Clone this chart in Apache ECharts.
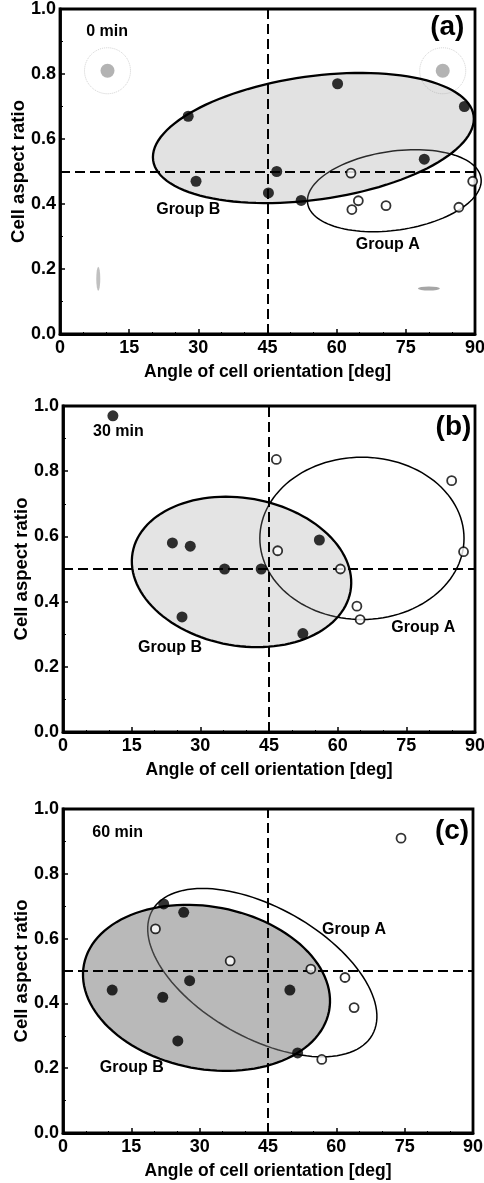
<!DOCTYPE html>
<html><head><meta charset="utf-8">
<script src="https://cdn.jsdelivr.net/npm/echarts@6/dist/echarts.min.js"></script>
<style>html,body{margin:0;padding:0;background:#fff}#c{width:484px;height:1183px}</style>
</head><body><div id="c"></div>
<script>
// ---- data ----
const xTicks = [0, 15, 30, 45, 60, 75, 90];
const yTicks = [0.0, 0.2, 0.4, 0.6, 0.8, 1.0];
const xName = 'Angle of cell orientation [deg]';
const yName = 'Cell aspect ratio';
const panelTags = ['(a)', '(b)', '(c)'];
const panelTimes = ['0 min', '30 min', '60 min'];

// filled = Group B cells, open = Group A cells  [angle, aspect ratio]
const filledA = [[27.8,0.67],[29.5,0.47],[45.2,0.434],[47.0,0.50],[52.3,0.411],[60.2,0.77],[79.0,0.538],[87.7,0.70]];
const openA   = [[63.1,0.495],[63.3,0.383],[64.7,0.41],[70.7,0.395],[86.5,0.39],[89.5,0.47]];
const filledB = [[10.9,0.97],[23.9,0.58],[27.8,0.57],[35.3,0.50],[43.3,0.50],[26.0,0.353],[52.4,0.302],[56.0,0.589]];
const openB   = [[46.6,0.836],[46.9,0.556],[60.6,0.50],[64.2,0.386],[64.9,0.345],[84.9,0.771],[87.5,0.553]];
const filledC = [[10.8,0.441],[21.9,0.419],[22.1,0.707],[26.5,0.681],[25.2,0.284],[27.8,0.47],[49.8,0.441],[51.5,0.247]];
const openC   = [[20.3,0.63],[36.7,0.531],[54.4,0.506],[61.9,0.48],[63.9,0.387],[56.8,0.227],[74.2,0.91]];

// ellipses: [centerX, centerY, axis1EndX, axis1EndY, axis2EndX, axis2EndY]
const ellipseA_a = [72.5,0.441, 91.3,0.480, 73.8,0.321];
const ellipseB_a = [54.95,0.603, 89.7,0.672, 56.8,0.415];
const ellipseA_b = [65.3,0.594, 87.6,0.594, 65.3,0.345];
const ellipseB_b = [39.0,0.491, 62.8,0.432, 36.2,0.268];
const ellipseA_c = [43.75,0.495, 67.9,0.303, 36.7,0.320];
const ellipseB_c = [31.5,0.448, 58.4,0.376, 28.1,0.202];

// group labels [x, y]
const groupAPos = [[71.1,0.275],[78.7,0.32],[63.9,0.627]];
const groupBPos = [[27.8,0.383],[23.4,0.26],[15.1,0.203]];
const timePos = [[10.2,0.93],[12.1,0.92],[12.0,0.927]];
const tagPos = [[84.0,0.945],[85.3,0.935],[85.4,0.93]];

// cell micrograph decorations in panel (a)
const roundCells = [[10.3,0.81],[83.0,0.81]];
const longCellsV = [[8.3,0.17]];
const longCellsH = [[80.0,0.14]];

// ---- layout ----
const grids = [
  {left:60, top:9, width:415, height:325},
  {left:63, top:406, width:412, height:326},
  {left:63, top:809, width:410, height:324}
];
const fillsB = ['rgba(150,150,150,0.28)','rgba(150,150,150,0.26)','rgba(120,120,120,0.52)'];
const FONT = 'Liberation Sans, Arial, sans-serif';

const filled = [filledA, filledB, filledC];
const open = [openA, openB, openC];
const ellA = [ellipseA_a, ellipseA_b, ellipseA_c];
const ellB = [ellipseB_a, ellipseB_b, ellipseB_c];

function ellipseRender(fill, stroke, lw){
  return function(params, api){
    const c = api.coord([api.value(0), api.value(1)]);
    const a = api.coord([api.value(2), api.value(3)]);
    const b = api.coord([api.value(4), api.value(5)]);
    const pts = [];
    for (let i = 0; i < 120; i++){
      const t = i/120*2*Math.PI;
      pts.push([c[0]+(a[0]-c[0])*Math.cos(t)+(b[0]-c[0])*Math.sin(t),
                c[1]+(a[1]-c[1])*Math.cos(t)+(b[1]-c[1])*Math.sin(t)]);
    }
    return {type:'polygon', shape:{points:pts}, style:{fill:fill, stroke:stroke, lineWidth:lw}};
  };
}
function textRender(txt, size, weight){
  return function(params, api){
    const p = api.coord([api.value(0), api.value(1)]);
    return {type:'text', x:p[0], y:p[1], style:{text:txt, fill:'#000', font: weight+' '+size+'px '+FONT, align:'center', verticalAlign:'middle'}};
  };
}

const option = {animation:false, grid:[], xAxis:[], yAxis:[], series:[]};
for (let k = 0; k < 3; k++){
  option.grid.push(Object.assign({show:true, containLabel:false, outerBoundsMode:'none',
    borderColor:'#000', borderWidth:2.8, backgroundColor:'transparent'}, grids[k]));
  option.xAxis.push({gridIndex:k, type:'value', min:xTicks[0], max:xTicks[xTicks.length-1], interval:15,
    name:xName, nameLocation:'middle', nameGap:29, nameMoveOverlap:false,
    nameTextStyle:{fontFamily:FONT, fontSize:17.5, fontWeight:'bold', color:'#000'},
    axisLine:{show:true, lineStyle:{color:'#000', width:2.8}},
    axisTick:{show:true, inside:true, length:5, lineStyle:{color:'#000', width:1.5}},
    minorTick:{show:true, splitNumber:3, length:2, lineStyle:{color:'#000'}},
    splitLine:{show:false},
    axisLabel:{fontFamily:FONT, fontSize:18, fontWeight:'bold', color:'#000', margin:5}});
  option.yAxis.push({gridIndex:k, type:'value', min:yTicks[0], max:yTicks[yTicks.length-1], interval:0.2,
    name:yName, nameLocation:'middle', nameGap:32, nameRotate:90, nameMoveOverlap:false,
    nameTextStyle:{fontFamily:FONT, fontSize:18.5, fontWeight:'bold', color:'#000'},
    axisLine:{show:true, lineStyle:{color:'#000', width:2.8}},
    axisTick:{show:true, inside:true, length:5, lineStyle:{color:'#000', width:1.5}},
    minorTick:{show:true, splitNumber:2, length:3, lineStyle:{color:'#000'}},
    splitLine:{show:false},
    axisLabel:{fontFamily:FONT, fontSize:18, fontWeight:'bold', color:'#000', margin:4, formatter:v=>v.toFixed(1)}});

  if (k === 0){
    option.series.push({type:'scatter', xAxisIndex:0, yAxisIndex:0, data:roundCells, symbolSize:46, z:1, silent:true,
      itemStyle:{color:'rgba(0,0,0,0)', borderColor:'#c4c4c4', borderWidth:1, borderType:'dotted'}});
    option.series.push({type:'scatter', xAxisIndex:0, yAxisIndex:0, data:roundCells, symbolSize:14, z:1, silent:true,
      itemStyle:{color:'#a0a0a0'}});
    option.series.push({type:'scatter', xAxisIndex:0, yAxisIndex:0, data:longCellsV, symbolSize:[4,24], z:1, silent:true,
      itemStyle:{color:'#b0b0b0'}});
    option.series.push({type:'scatter', xAxisIndex:0, yAxisIndex:0, data:longCellsH, symbolSize:[22,4], z:1, silent:true,
      itemStyle:{color:'#909090'}});
  }
  // Group A ellipse (outline only) drawn first
  option.series.push({type:'custom', xAxisIndex:k, yAxisIndex:k, z:2, silent:true,
    renderItem: ellipseRender(null, '#000', 1.5), encode:{x:[0,2,4], y:[1,3,5]}, data:[ellA[k]]});
  // Group B ellipse (filled)
  option.series.push({type:'custom', xAxisIndex:k, yAxisIndex:k, z:3, silent:true,
    renderItem: ellipseRender(fillsB[k], '#000', 2.3), encode:{x:[0,2,4], y:[1,3,5]}, data:[ellB[k]]});
  // dashed reference lines
  option.series.push({type:'line', xAxisIndex:k, yAxisIndex:k, data:[], z:4,
    markLine:{silent:true, symbol:'none', label:{show:false},
      lineStyle:{color:'#000', width:2, type:[10,5]},
      data:[{xAxis:45},{yAxis:0.5}]}});
  // points
  option.series.push({type:'scatter', xAxisIndex:k, yAxisIndex:k, data:filled[k], symbol:'circle', symbolSize:11, z:5,
    itemStyle:{color:'#000'}});
  option.series.push({type:'scatter', xAxisIndex:k, yAxisIndex:k, data:open[k], symbol:'circle', symbolSize:9, z:5,
    itemStyle:{color:'#fff', borderColor:'#000', borderWidth:1.8}});
  // text annotations
  option.series.push({type:'custom', xAxisIndex:k, yAxisIndex:k, z:6, silent:true,
    renderItem: textRender('Group A', 16, 'bold'), data:[groupAPos[k]]});
  option.series.push({type:'custom', xAxisIndex:k, yAxisIndex:k, z:6, silent:true,
    renderItem: textRender('Group B', 16, 'bold'), data:[groupBPos[k]]});
  option.series.push({type:'custom', xAxisIndex:k, yAxisIndex:k, z:6, silent:true,
    renderItem: textRender(panelTimes[k], 16, 'bold'), data:[timePos[k]]});
  option.series.push({type:'custom', xAxisIndex:k, yAxisIndex:k, z:6, silent:true,
    renderItem: textRender(panelTags[k], 28, 'bold'), data:[tagPos[k]]});
}
const chart = echarts.init(document.getElementById('c'), null, {renderer:'canvas'});
chart.setOption(option);
</script></body></html>
